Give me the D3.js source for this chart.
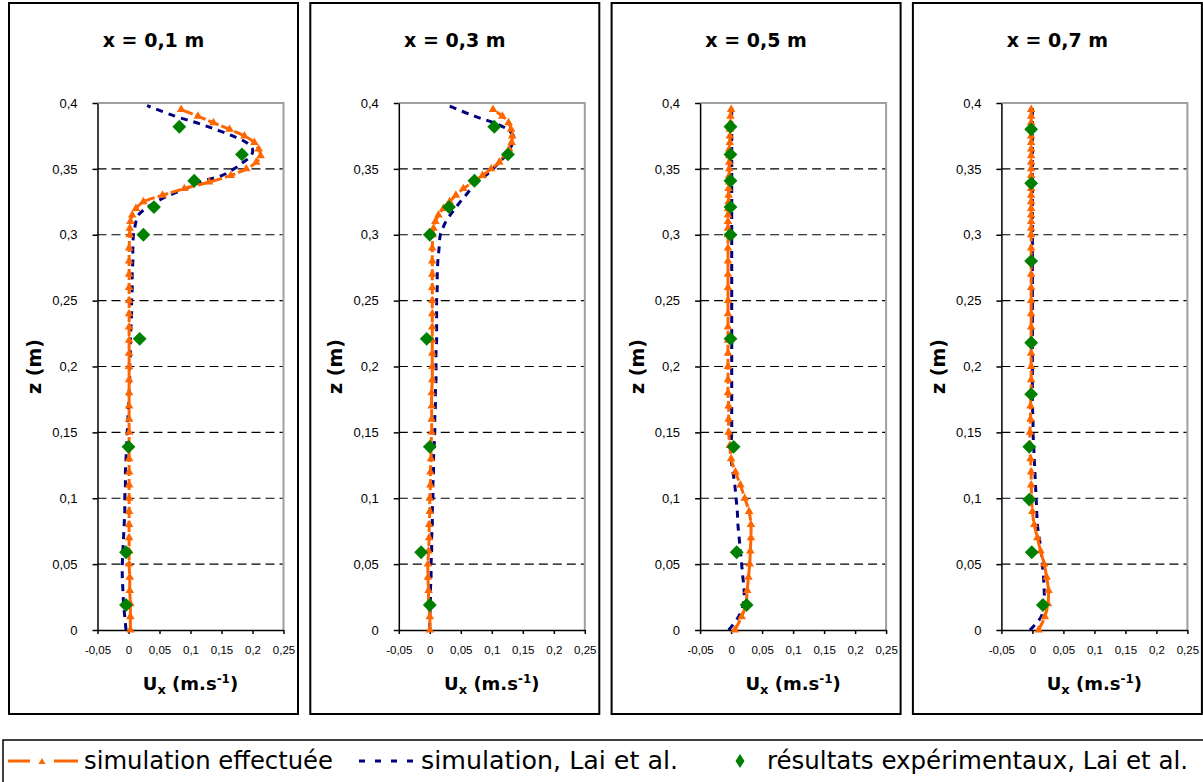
<!DOCTYPE html>
<html><head><meta charset="utf-8">
<script src="https://cdn.jsdelivr.net/npm/d3@7"></script>
<style>body{margin:0;background:#fff}</style>
</head><body><svg id="c" width="1203" height="782"></svg>
<script>
// ---------- DATA ----------
const titles = ["x = 0,1 m", "x = 0,3 m", "x = 0,5 m", "x = 0,7 m"];
const yTickValues = [0, 0.05, 0.1, 0.15, 0.2, 0.25, 0.3, 0.35, 0.4];
const yTickLabels = ["0", "0,05", "0,1", "0,15", "0,2", "0,25", "0,3", "0,35", "0,4"];
const xTickValues = [-0.05, 0, 0.05, 0.1, 0.15, 0.2, 0.25];
const xTickLabels = ["-0,05", "0", "0,05", "0,1", "0,15", "0,2", "0,25"];
const gridValues = [0.05, 0.1, 0.15, 0.2, 0.25, 0.3, 0.35];

// heights (m) of the "simulation effectuée" points
const zSim = [0,0.01,0.02,0.03,0.04,0.05,0.06,0.07,0.08,0.09,
  0.10,0.11,0.12,0.13,0.14,0.15,0.16,0.17,0.18,0.19,
  0.20,0.21,0.22,0.23,0.24,0.25,0.26,0.27,0.28,0.29,
  0.30,0.305,0.31,0.315,0.32,0.325,0.33,0.335,0.34,0.345,
  0.35,0.355,0.36,0.365,0.37,0.375,0.38,0.385,0.39,0.395];
// heights (m) of the "simulation, Lai et al." points
const zLai = [0,0.01,0.02,0.03,0.04,0.05,0.06,0.07,0.08,0.09,
  0.10,0.11,0.12,0.13,0.14,0.15,0.16,0.17,0.18,0.19,
  0.20,0.21,0.22,0.23,0.24,0.25,0.26,0.27,0.28,0.29,
  0.30,0.305,0.31,0.315,0.32,0.325,0.33,0.335,0.34,0.345,
  0.35,0.355,0.36,0.365,0.37,0.375,0.38,0.385,0.39,0.398];

// Ux (m/s), simulation effectuée
const simX01 = [0.003,0.003,0.003,0.002,0.002,0.001,0.001,0.001,0.001,0.001,
  0.001,0.001,0.001,0.001,0.001,0.001,0.001,0.001,0.001,0.001,
  0.001,0.001,0.001,0.001,0.001,0.001,0.001,0.001,0.001,0.001,
  0.002,0.002,0.003,0.006,0.012,0.024,0.055,0.09,0.13,0.165,
  0.19,0.206,0.213,0.21,0.203,0.187,0.163,0.137,0.112,0.085];
const simX03 = [0.0,0.0,-0.002,-0.002,-0.003,-0.003,-0.002,-0.001,-0.001,0.0,
  0.0,0.001,0.001,0.002,0.002,0.003,0.003,0.003,0.003,0.004,
  0.004,0.004,0.004,0.004,0.004,0.004,0.004,0.004,0.004,0.004,
  0.005,0.006,0.009,0.014,0.022,0.032,0.042,0.054,0.07,0.085,
  0.099,0.112,0.121,0.128,0.132,0.133,0.131,0.127,0.117,0.102];
const simX05 = [0.006,0.017,0.024,0.026,0.028,0.03,0.031,0.032,0.032,0.029,
  0.022,0.015,0.007,0.0,-0.002,-0.004,-0.004,-0.004,-0.005,-0.005,
  -0.005,-0.005,-0.005,-0.005,-0.005,-0.005,-0.005,-0.005,-0.005,-0.005,
  -0.005,-0.005,-0.005,-0.005,-0.005,-0.004,-0.004,-0.004,-0.003,-0.003,
  -0.003,-0.003,-0.003,-0.003,-0.002,-0.002,-0.002,-0.001,-0.001,0.0];
const simX07 = [0.01,0.02,0.025,0.026,0.023,0.019,0.013,0.008,0.003,0.0,
  -0.001,-0.002,-0.002,-0.003,-0.004,-0.004,-0.003,-0.003,-0.002,-0.002,
  -0.002,-0.002,-0.002,-0.002,-0.002,-0.002,-0.002,-0.002,-0.002,-0.002,
  -0.002,-0.002,-0.002,-0.002,-0.002,-0.002,-0.002,-0.002,-0.002,-0.002,
  -0.002,-0.002,-0.002,-0.002,-0.002,-0.002,-0.002,-0.002,-0.002,-0.002];

// Ux (m/s), simulation Lai et al.
const laiX01 = [-0.004,-0.006,-0.008,-0.009,-0.01,-0.01,-0.009,-0.008,-0.007,-0.006,
  -0.006,-0.005,-0.005,-0.004,-0.003,-0.002,-0.001,0.0,0.001,0.002,
  0.002,0.003,0.003,0.004,0.005,0.005,0.006,0.006,0.007,0.007,
  0.008,0.01,0.012,0.016,0.028,0.045,0.066,0.093,0.115,0.151,
  0.17,0.185,0.198,0.2,0.19,0.168,0.14,0.11,0.075,0.03];
const laiX03 = [0.0,0.0,0.001,0.001,0.002,0.002,0.003,0.003,0.004,0.004,
  0.005,0.005,0.006,0.006,0.007,0.008,0.008,0.009,0.009,0.01,
  0.01,0.01,0.011,0.011,0.011,0.011,0.012,0.012,0.013,0.015,
  0.017,0.021,0.026,0.033,0.041,0.049,0.058,0.067,0.077,0.09,
  0.102,0.112,0.122,0.129,0.134,0.135,0.125,0.103,0.072,0.03];
const laiX05 = [-0.004,0.012,0.02,0.021,0.019,0.017,0.015,0.013,0.011,0.01,
  0.008,0.006,0.003,0.0,0.0,0.001,0.001,0.001,0.001,0.001,
  0.001,0.001,0.001,0.001,0.001,0.001,0.001,0.001,0.001,0.001,
  0.001,0.001,0.001,0.001,0.001,0.001,0.001,0.001,0.001,0.001,
  0.001,0.001,0.001,0.001,0.001,0.001,0.001,0.001,0.001,0.001];
const laiX07 = [-0.004,0.014,0.019,0.019,0.018,0.016,0.014,0.011,0.008,0.007,
  0.006,0.005,0.004,0.003,0.002,0.001,0.001,0.0,0.0,0.0,
  0.0,0.0,0.0,0.0,0.0,0.0,0.0,0.0,0.0,0.0,
  0.0,0.0,0.0,0.0,0.0,0.0,0.0,0.0,0.0,0.0,
  0.0,0.0,0.0,0.0,0.0,0.0,0.0,0.0,0.0,0.0];

// experimental results, Lai et al.
const expZ = [0.382,0.361,0.341,0.321,0.300,0.221,0.139,0.059,0.019];
const expZ07 = [0.38,0.339,0.28,0.218,0.179,0.139,0.099,0.059,0.019];
const expX01 = [0.082,0.183,0.106,0.041,0.024,0.018,0.0,-0.004,-0.004];
const expX03 = [0.104,0.126,0.072,0.031,0.0,-0.005,0.0,-0.014,0.0];
const expX05 = [-0.001,-0.001,-0.001,-0.001,-0.001,-0.001,0.004,0.009,0.025];
const expX07 = [-0.002,-0.002,-0.002,-0.002,-0.002,-0.005,-0.005,-0.001,0.017];

const legendLabels = ["simulation effectuée", "simulation, Lai et al.", "résultats expérimentaux, Lai et al."];

const panels = [
  {title: titles[0], sim: simX01, lai: laiX01, ez: expZ, ex: expX01},
  {title: titles[1], sim: simX03, lai: laiX03, ez: expZ, ex: expX03},
  {title: titles[2], sim: simX05, lai: laiX05, ez: expZ, ex: expX05},
  {title: titles[3], sim: simX07, lai: laiX07, ez: expZ07, ex: expX07}
];

// ---------- DRAW ----------
const ORANGE = "#ff6600", NAVY = "#000080", GREEN = "#008000";
const svg = d3.select("#c");
const boxW = 289, boxTop = 3, boxBottom = 714, plotTop = 103, plotBottom = 630, plotW = 186;
const txtFont = "'Liberation Sans', Arial, sans-serif";
const boldFont = "'DejaVu Sans', Verdana, sans-serif";

panels.forEach((p, i) => {
  const bx = 9 + i * 301.3;
  const pl = bx + 88.5;
  const g = svg.append("g");
  g.append("rect").attr("x", bx).attr("y", boxTop).attr("width", boxW).attr("height", boxBottom - boxTop)
    .attr("fill", "#fff").attr("stroke", "#000").attr("stroke-width", 2);

  const x = d3.scaleLinear().domain([-0.05, 0.25]).range([pl, pl + plotW]);
  const y = d3.scaleLinear().domain([0, 0.4]).range([plotBottom, plotTop]);

  g.append("text").attr("x", bx + boxW / 2).attr("y", 47).attr("text-anchor", "middle")
    .attr("font-family", boldFont).attr("font-weight", "bold").attr("font-size", 19).text(p.title);

  g.selectAll(".grid").data(gridValues).enter().append("line")
    .attr("x1", pl).attr("x2", pl + plotW).attr("y1", d => y(d)).attr("y2", d => y(d))
    .attr("stroke", "#000").attr("stroke-width", 1.1).attr("stroke-dasharray", "9,5");

  g.append("path").attr("d", `M${pl},${y(0.4)}H${pl + plotW}V${y(0)}`)
    .attr("fill", "none").attr("stroke", "#a0a0a0").attr("stroke-width", 2);

  const ya = d3.axisLeft(y).tickValues(yTickValues).tickFormat((d, k) => yTickLabels[k])
    .tickSize(5).tickSizeOuter(0).tickPadding(15);
  const yg = g.append("g").attr("transform", `translate(${pl},0)`).call(ya);
  yg.selectAll("text").attr("font-family", txtFont).attr("font-size", 13).attr("fill", "#000");
  yg.selectAll("line, path").attr("stroke", "#000").attr("stroke-width", 1.5);

  const xa = d3.axisBottom(x).tickValues(xTickValues).tickFormat((d, k) => xTickLabels[k])
    .tickSize(4).tickSizeOuter(0).tickPadding(12);
  const xg = g.append("g").attr("transform", `translate(0,${plotBottom})`).call(xa);
  xg.selectAll("text").attr("font-family", txtFont).attr("font-size", 11.5).attr("fill", "#000");
  xg.selectAll("line, path").attr("stroke", "#000").attr("stroke-width", 1.5);

  const xt = g.append("text").attr("x", pl + plotW / 2).attr("y", 690).attr("text-anchor", "middle")
    .attr("font-family", boldFont).attr("font-weight", "bold").attr("font-size", 18);
  xt.append("tspan").text("U");
  xt.append("tspan").attr("font-size", 13).attr("dy", 4).text("x");
  xt.append("tspan").attr("dy", -4).text(" (m.s");
  xt.append("tspan").attr("font-size", 12).attr("dy", -7).text("-1");
  xt.append("tspan").attr("dy", 7).text(")");

  g.append("text").attr("transform", `translate(${bx + 32},${(plotTop + plotBottom) / 2}) rotate(-90)`)
    .attr("text-anchor", "middle").attr("font-family", boldFont).attr("font-weight", "bold")
    .attr("font-size", 19).text("z (m)");

  const line = d3.line().curve(d3.curveCatmullRom.alpha(0.5));
  const laiPts = zLai.map((z, k) => [x(p.lai[k]), y(z)]);
  g.append("path").attr("d", line(laiPts)).attr("fill", "none").attr("stroke", NAVY)
    .attr("stroke-width", 3).attr("stroke-dasharray", "7,6");

  const simPts = zSim.map((z, k) => [x(p.sim[k]), y(z)]);
  g.append("path").attr("d", line(simPts)).attr("fill", "none").attr("stroke", ORANGE)
    .attr("stroke-width", 3).attr("stroke-dasharray", "11,3");
  const tri = d3.symbol().type(d3.symbolTriangle).size(32);
  g.selectAll(".tri").data(simPts).enter().append("path")
    .attr("d", tri).attr("transform", d => `translate(${d[0]},${d[1]})`).attr("fill", ORANGE);

  const sq = d3.symbol().type(d3.symbolSquare).size(96);
  g.selectAll(".dia").data(p.ez.map((z, k) => [x(p.ex[k]), y(z)])).enter().append("path")
    .attr("d", sq).attr("transform", d => `translate(${d[0]},${d[1]}) rotate(45)`).attr("fill", GREEN);
});

// ---------- LEGEND ----------
const lg = svg.append("g");
lg.append("rect").attr("x", 3).attr("y", 740).attr("width", 1220).attr("height", 60)
  .attr("fill", "#fff").attr("stroke", "#000").attr("stroke-width", 1.5);
const ly = 761;
lg.append("line").attr("x1", 8).attr("x2", 30).attr("y1", ly).attr("y2", ly).attr("stroke", ORANGE).attr("stroke-width", 3);
lg.append("line").attr("x1", 54).attr("x2", 78).attr("y1", ly).attr("y2", ly).attr("stroke", ORANGE).attr("stroke-width", 3);
lg.append("path").attr("d", d3.symbol().type(d3.symbolTriangle).size(22)).attr("transform", `translate(42,${ly + 1})`).attr("fill", ORANGE);
lg.append("line").attr("x1", 359).attr("x2", 420).attr("y1", ly).attr("y2", ly).attr("stroke", NAVY)
  .attr("stroke-width", 3).attr("stroke-dasharray", "6,10");
lg.append("path").attr("d", "M0,-7L4.5,0L0,7L-4.5,0Z").attr("transform", `translate(740,${ly})`).attr("fill", GREEN);
const legFont = "'Liberation Sans Narrow', 'DejaVu Sans Condensed', sans-serif";
const legPos = [[84, 249], [421, 257], [767, 421]];
legendLabels.forEach((t, k) => {
  lg.append("text").attr("x", legPos[k][0]).attr("y", 769).attr("font-family", legFont).attr("font-size", 25)
    .attr("textLength", legPos[k][1]).attr("lengthAdjust", "spacingAndGlyphs").attr("fill", "#000").text(t);
});
</script></body></html>
